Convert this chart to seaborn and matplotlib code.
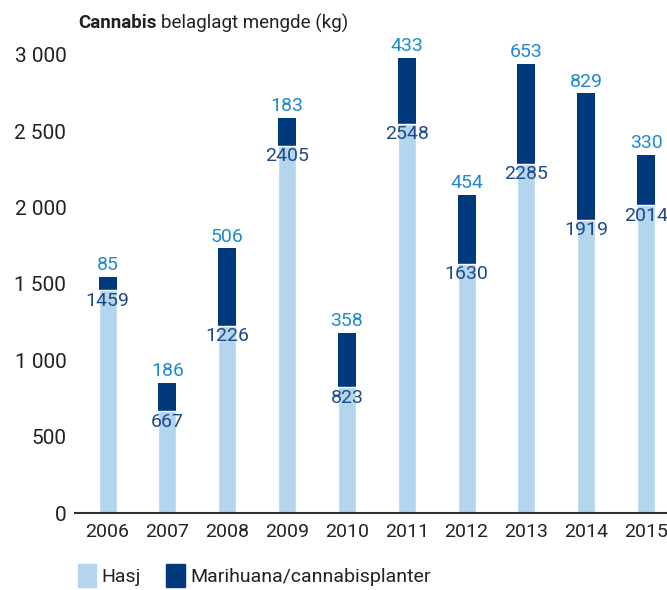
import matplotlib
matplotlib.use("Agg")
import matplotlib.pyplot as plt
from matplotlib.patches import Patch
from matplotlib.ticker import FuncFormatter
import seaborn as sns
import pandas as pd

years = ["2006", "2007", "2008", "2009", "2010", "2011", "2012", "2013", "2014", "2015"]
hasj = [1459, 667, 1226, 2405, 823, 2548, 1630, 2285, 1919, 2014]
marihuana = [85, 186, 506, 183, 358, 433, 454, 653, 829, 330]
yticks = [0, 500, 1000, 1500, 2000, 2500, 3000]

LIGHT = "#b3d5ee"
NAVY = "#003a7d"
HASJ_TXT = "#1d4a88"
MAR_TXT = "#1e8ad2"
TEXT = "#222222"

sns.set_theme(style="white")
plt.rcParams["font.family"] = ["Roboto", "DejaVu Sans"]

df = pd.DataFrame({"year": years, "hasj": hasj, "marihuana": marihuana})
df["total"] = df["hasj"] + df["marihuana"]

fig = plt.figure(figsize=(6.67, 5.9), dpi=100)
ax = fig.add_axes([0.112, 0.1305, 0.888, 0.8025])

# navy total bars with the light hasj bars drawn over them -> stacked look
sns.barplot(data=df, x="year", y="total", color=NAVY, width=0.3,
            saturation=1, linewidth=0, ax=ax)
sns.barplot(data=df, x="year", y="hasj", color=LIGHT, width=0.3,
            saturation=1, edgecolor="white", linewidth=1.0, ax=ax)

for i, row in df.iterrows():
    ax.annotate(f"{row['hasj']}", (i, row["hasj"]), xytext=(0, -1),
                textcoords="offset points", ha="center", va="top",
                fontsize=14, color=HASJ_TXT, annotation_clip=False)
    ax.annotate(f"{row['marihuana']}", (i, row["total"]), xytext=(0, 2),
                textcoords="offset points", ha="center", va="bottom",
                fontsize=14, color=MAR_TXT, annotation_clip=False)

ax.set_xlim(-0.55, 9.35)
ax.set_ylim(0, 3100)
ax.set_yticks(yticks)
ax.yaxis.set_major_formatter(FuncFormatter(lambda v, p: f"{int(v):,}".replace(",", " ")))
ax.set_xlabel("")
ax.set_ylabel("")
ax.tick_params(axis="y", length=0, labelsize=15, colors=TEXT, pad=6)
ax.tick_params(axis="x", length=0, labelsize=14, colors=TEXT, pad=7)
for s in ["top", "right", "left"]:
    ax.spines[s].set_visible(False)
ax.spines["bottom"].set_color("#333333")
ax.spines["bottom"].set_linewidth(1.5)

# title: bold "Cannabis" followed by regular text
t1 = fig.text(0.118, 0.952, "Cannabis", fontsize=13.5, color=TEXT, fontweight="bold")
fig.canvas.draw()
bb = t1.get_window_extent()
fig.text((bb.x1 + 4) / fig.bbox.width, 0.952, "belaglagt mengde (kg)",
         fontsize=13.5, color=TEXT)

handles = [Patch(color=LIGHT, label="Hasj"),
           Patch(color=NAVY, label="Marihuana/cannabisplanter")]
fig.legend(handles=handles, loc="lower left", bbox_to_anchor=(0.09, -0.025),
           ncol=2, frameon=False, fontsize=14, handlelength=0.95, handleheight=1.45,
           handletextpad=0.3, columnspacing=1.3, labelcolor=TEXT)

fig.savefig("out.png", dpi=100)
